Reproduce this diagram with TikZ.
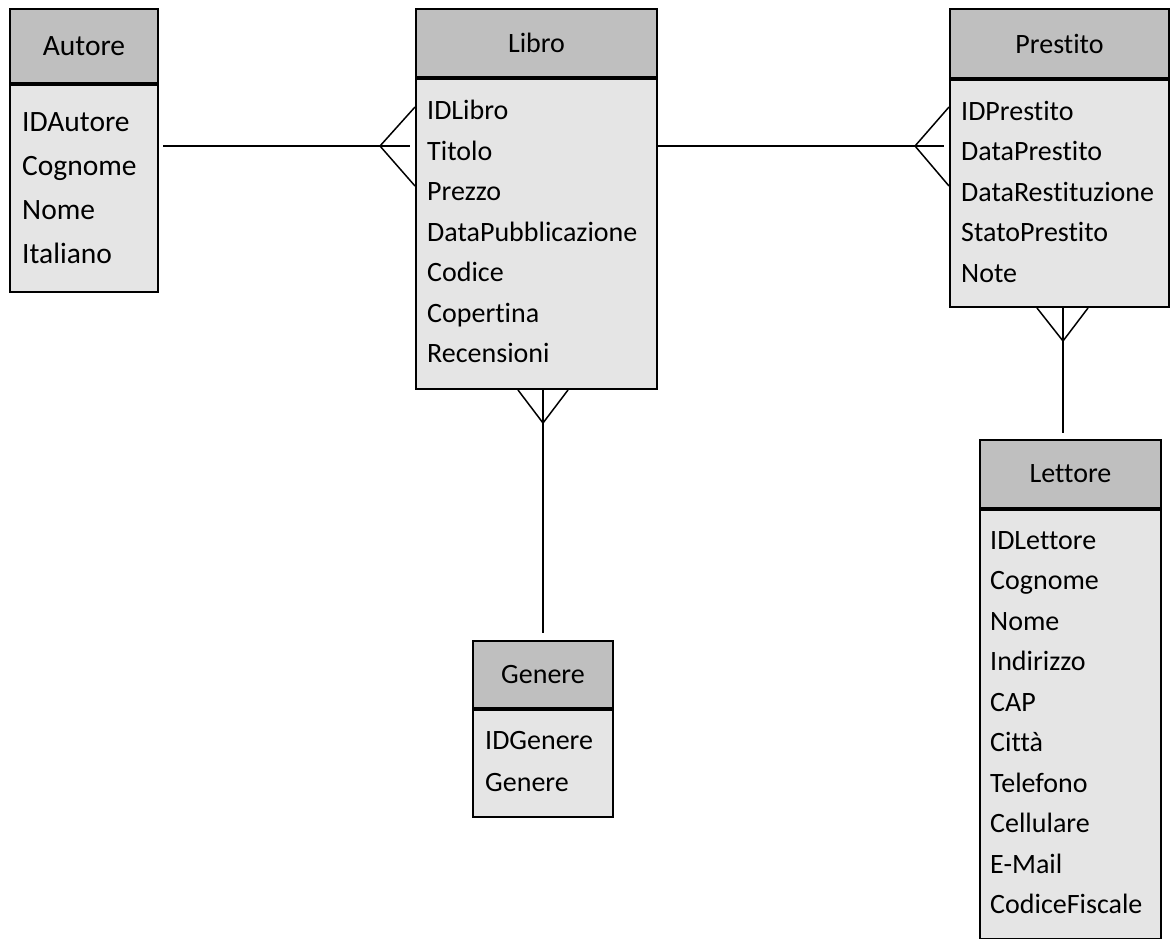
\documentclass[tikz,border=0pt]{standalone}
\usepackage{fontspec}
\setmainfont{Carlito}[Ligatures=NoCommon]
\usetikzlibrary{positioning,calc}

\begin{document}
\begin{tikzpicture}[x=1pt, y=-1pt,
    thead/.style={draw, fill=black!25, line width=2pt, anchor=north west, inner sep=0pt, font=\fontsize{28}{34}\selectfont},
    tbody/.style={draw, fill=black!10, line width=2pt, anchor=north west, inner sep=0pt},
    attrs/.style={anchor=north west, inner sep=0pt, align=left, font=\fontsize{28}{40.5}\selectfont},
    rel/.style={line width=1.5pt}]
    \useasboundingbox (0,0) rectangle (1170,938);
    % Tables
    \node[thead, minimum width=148, minimum height=74, font=\fontsize{29.5}{36}\selectfont] (autoreH) at (9,8) {Autore};
    \node[tbody, minimum width=148, minimum height=207] (autore) at (autoreH.south west) {};
    \node[attrs, font=\fontsize{29.5}{44}\selectfont] (autoreA) at (22,112) {IDAutore\\Cognome\\Nome\\Italiano};

    \node[thead, minimum width=241, minimum height=68] (libroH) at (415,8) {Libro};
    \node[tbody, minimum width=241, minimum height=310] (libro) at (libroH.south west) {};
    \node[attrs] (libroA) at (427,100) {IDLibro\\Titolo\\Prezzo\\DataPubblicazione\\Codice\\Copertina\\Recensioni};

    \node[thead, minimum width=219, minimum height=69] (prestitoH) at (949,8) {Prestito};
    \node[tbody, minimum width=219, minimum height=227] (prestito) at (prestitoH.south west) {};
    \node[attrs] (prestitoA) at (961,101) {IDPrestito\\DataPrestito\\DataRestituzione\\StatoPrestito\\Note};

    \node[thead, minimum width=140, minimum height=67] (genereH) at (472,640) {Genere};
    \node[tbody, minimum width=140, minimum height=107] (genere) at (genereH.south west) {};
    \node[attrs, font=\fontsize{28}{42}\selectfont] (genereA) at (485,731) {IDGenere\\Genere};

    \node[thead, minimum width=181, minimum height=68] (lettoreH) at (979,439) {Lettore};
    \node[tbody, minimum width=181, minimum height=429] (lettore) at (lettoreH.south west) {};
    \node[attrs] (lettoreA) at (990,531) {IDLettore\\Cognome\\Nome\\Indirizzo\\CAP\\Città\\Telefono\\Cellulare\\E-Mail\\CodiceFiscale};
    % Relations
    \coordinate (cfA) at (380,146);
    \coordinate (cfB) at (915,146);
    \coordinate (cfC) at (543,423);
    \coordinate (cfD) at (1063,341);
    \draw[rel, shorten <=4pt, shorten >=5pt] (autore.east |- cfA) -- (libro.west |- cfA);
    \draw[rel] ($(libro.west |- cfA)+(0,-39)$) -- (cfA) -- ($(libro.west |- cfA)+(0,40)$);
    \draw[rel, shorten >=5pt] (libro.east |- cfB) -- (prestito.west |- cfB);
    \draw[rel] ($(prestito.west |- cfB)+(0,-39)$) -- (cfB) -- ($(prestito.west |- cfB)+(0,40)$);
    \draw[rel, shorten >=7pt] (cfC |- libro.south) -- (cfC |- genereH.north);
    \draw[rel] ($(cfC |- libro.south)+(-25,0)$) -- (cfC) -- ($(cfC |- libro.south)+(25,0)$);
    \draw[rel, shorten >=6pt] (cfD |- prestito.south) -- (cfD |- lettoreH.north);
    \draw[rel] ($(cfD |- prestito.south)+(-26,0)$) -- (cfD) -- ($(cfD |- prestito.south)+(25,0)$);
\end{tikzpicture}
\end{document}
